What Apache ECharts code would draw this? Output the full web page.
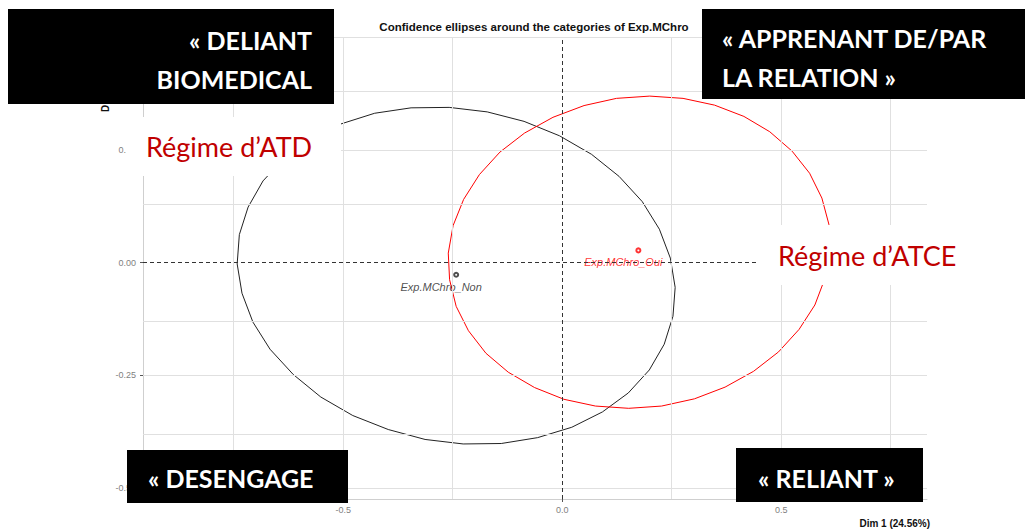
<!DOCTYPE html>
<html lang="en">
<head>
    <meta charset="UTF-8">
    <title>Confidence ellipses</title>
    <script src="https://cdn.jsdelivr.net/npm/echarts@6.0.0/dist/echarts.min.js"></script>
    <style>
        body {
            margin: 0;
            background: #fff;
        }
    </style>
</head>
<body>
    <div id="chart" style="width: 1025px; height: 530px;"></div>
    <script type="text/javascript">
        // categories and their coordinates on Dim 1 / Dim 2
        const categories = ['Exp.MChro_Non', 'Exp.MChro_Oui'];
        const catPoints = [[-0.242, -0.027], [0.174, 0.027]];

        // points read along each confidence ellipse
        const ellipseNon = [
            [0.253, -0.119], [0.233, -0.181], [0.199, -0.238], [0.151, -0.289],
            [0.092, -0.331], [0.022, -0.365], [-0.056, -0.388], [-0.139, -0.401],
            [-0.226, -0.402], [-0.313, -0.392], [-0.397, -0.370], [-0.478, -0.339],
            [-0.551, -0.298], [-0.614, -0.248], [-0.667, -0.192], [-0.706, -0.132],
            [-0.731, -0.068], [-0.742, -0.003], [-0.737, 0.062], [-0.717, 0.123],
            [-0.683, 0.181], [-0.635, 0.231], [-0.576, 0.274], [-0.506, 0.307],
            [-0.428, 0.331], [-0.345, 0.343], [-0.258, 0.344], [-0.171, 0.334],
            [-0.087, 0.313], [-0.006, 0.281], [0.067, 0.240], [0.130, 0.191],
            [0.183, 0.135], [0.222, 0.074], [0.247, 0.010], [0.258, -0.055],
            [0.253, -0.119]
        ];
        const ellipseOui = [
            [0.609, 0.085], [0.611, 0.025], [0.600, -0.035], [0.577, -0.094],
            [0.541, -0.148], [0.494, -0.198], [0.437, -0.241], [0.372, -0.276],
            [0.302, -0.302], [0.227, -0.318], [0.152, -0.323], [0.076, -0.318],
            [0.004, -0.303], [-0.063, -0.277], [-0.123, -0.243], [-0.174, -0.201],
            [-0.214, -0.151], [-0.242, -0.097], [-0.257, -0.038], [-0.260, 0.021],
            [-0.249, 0.082], [-0.225, 0.140], [-0.189, 0.195], [-0.142, 0.245],
            [-0.086, 0.287], [-0.021, 0.322], [0.050, 0.348], [0.124, 0.364],
            [0.200, 0.369], [0.276, 0.364], [0.348, 0.349], [0.415, 0.324],
            [0.474, 0.290], [0.525, 0.247], [0.565, 0.198], [0.593, 0.143],
            [0.609, 0.085]
        ];

        // axes
        const xTicks = [-0.5, 0, 0.5];
        const yTicks = [-0.5, -0.25, 0, 0.25];
        const xGrid = [-0.75, -0.5, -0.25, 0.25, 0.5, 0.75];
        const yGrid = [-0.5, -0.375, -0.25, -0.125, 0.125, 0.25, 0.375, 0.5];

        const title = 'Confidence ellipses around the categories of Exp.MChro';
        const xName = 'Dim 1 (24.56%)';
        const yName = 'Dim 2 (19.83%)';

        // annotations pasted over the plot
        const quadrantTL = ['« DELIANT', 'BIOMEDICAL'];
        const quadrantTR = ['« APPRENANT DE/PAR', 'LA RELATION »'];
        const quadrantBL = '« DESENGAGE';
        const quadrantBR = '« RELIANT »';
        const regimeLeft = 'Régime d’ATD';
        const regimeRight = 'Régime d’ATCE';

        const chart = echarts.init(
            document.getElementById('chart'), null, { renderer: 'svg' }
        );

        const boxFont = 'bold 25px Lato';
        const redFont = '27px Lato';
        const darkRed = '#c00000';

        function rect(x, y, w, h, fill) {
            return { type: 'rect', z: 100, shape: { x: x, y: y, width: w, height: h }, style: { fill: fill } };
        }
        function text(x, y, str, font, fill, align) {
            return {
                type: 'text', z: 101, x: x, y: y,
                style: { text: str, font: font, fill: fill, textAlign: align || 'left', textVerticalAlign: 'middle' }
            };
        }

        chart.setOption({
            animation: false,
            grid: { left: 143, right: 98, top: 37, bottom: 31 },
            xAxis: {
                type: 'value',
                min: -0.957,
                max: 0.833,
                axisLine: { show: true, onZero: false, lineStyle: { color: '#cfcfcf' } },
                axisTick: { show: true, length: 3, customValues: xTicks, lineStyle: { color: '#555' } },
                axisLabel: {
                    customValues: xTicks, color: '#7f7f7f', fontSize: 9, margin: 6,
                    fontFamily: 'Liberation Sans',
                    formatter: v => v.toFixed(1)
                },
                splitLine: { show: false }
            },
            yAxis: {
                type: 'value',
                min: -0.524,
                max: 0.5,
                axisLine: { show: true, onZero: false, lineStyle: { color: '#cfcfcf' } },
                axisTick: { show: true, length: 3, customValues: yTicks, lineStyle: { color: '#555' } },
                axisLabel: {
                    customValues: yTicks, color: '#7f7f7f', fontSize: 9, margin: 7,
                    fontFamily: 'Liberation Sans',
                    formatter: v => v.toFixed(2)
                },
                splitLine: { show: false }
            },
            series: [
                {
                    type: 'line',
                    data: [],
                    z: 1,
                    silent: true,
                    markLine: {
                        silent: true,
                        symbol: 'none',
                        label: { show: false },
                        lineStyle: { color: '#e0e0e0', width: 1, type: 'solid' },
                        data: xGrid.map(v => ({ xAxis: v })).concat(yGrid.map(v => ({ yAxis: v })))
                    }
                },
                {
                    type: 'line',
                    data: [],
                    z: 2,
                    silent: true,
                    markLine: {
                        silent: true,
                        symbol: 'none',
                        label: { show: false },
                        lineStyle: { color: '#333', width: 1, type: [4, 3] },
                        data: [{ xAxis: 0 }, { yAxis: 0 }]
                    }
                },
                {
                    name: categories[0],
                    type: 'line',
                    data: ellipseNon,
                    smooth: false,
                    showSymbol: false,
                    z: 3,
                    lineStyle: { color: '#222', width: 1 }
                },
                {
                    name: categories[1],
                    type: 'line',
                    data: ellipseOui,
                    smooth: false,
                    showSymbol: false,
                    z: 3,
                    lineStyle: { color: '#ff0000', width: 1 }
                },
                {
                    type: 'scatter',
                    z: 4,
                    symbol: 'emptyCircle',
                    symbolSize: 4,
                    data: categories.map((c, i) => ({
                        name: c,
                        value: catPoints[i],
                        itemStyle: { color: i === 0 ? '#222' : '#ff0000', borderWidth: 1 },
                        label: { color: i === 0 ? '#222' : '#ff0000' }
                    })),
                    label: {
                        show: true,
                        formatter: '{b}',
                        position: 'inside',
                        offset: [-15, 12],
                        fontSize: 11,
                        fontStyle: 'italic',
                        fontFamily: 'Liberation Sans'
                    }
                }
            ],
            graphic: [
                text(534, 27, title, 'bold 11.5px Liberation Sans', '#111', 'center'),
                text(930, 523, xName, 'bold 10px Liberation Sans', '#111', 'right'),
                {
                    type: 'text', z: 99, x: 105, y: 112, rotation: Math.PI / 2,
                    style: { text: yName, font: 'bold 10px Liberation Sans', fill: '#111', textAlign: 'left', textVerticalAlign: 'middle' }
                },
                // white patches with red regime labels
                rect(126, 117, 215, 59, '#fff'),
                text(146, 146, regimeLeft, redFont, darkRed),
                rect(757, 225, 268, 60, '#fff'),
                text(778, 255, regimeRight, redFont, darkRed),
                // black quadrant boxes
                rect(8, 9, 326, 95, '#000'),
                text(312, 40, quadrantTL[0], boxFont, '#fff', 'right'),
                text(312, 79, quadrantTL[1], boxFont, '#fff', 'right'),
                rect(702, 9, 323, 90, '#000'),
                text(722, 38, quadrantTR[0], boxFont, '#fff'),
                text(722, 77, quadrantTR[1], boxFont, '#fff'),
                rect(127, 450, 221, 53, '#000'),
                text(148, 478, quadrantBL, boxFont, '#fff'),
                rect(736, 448, 187, 54, '#000'),
                text(758, 478, quadrantBR, boxFont, '#fff')
            ]
        });

        chart.on('rendered', () => {
            window.__rendered__ = true;
        });
    </script>
</body>
</html>
